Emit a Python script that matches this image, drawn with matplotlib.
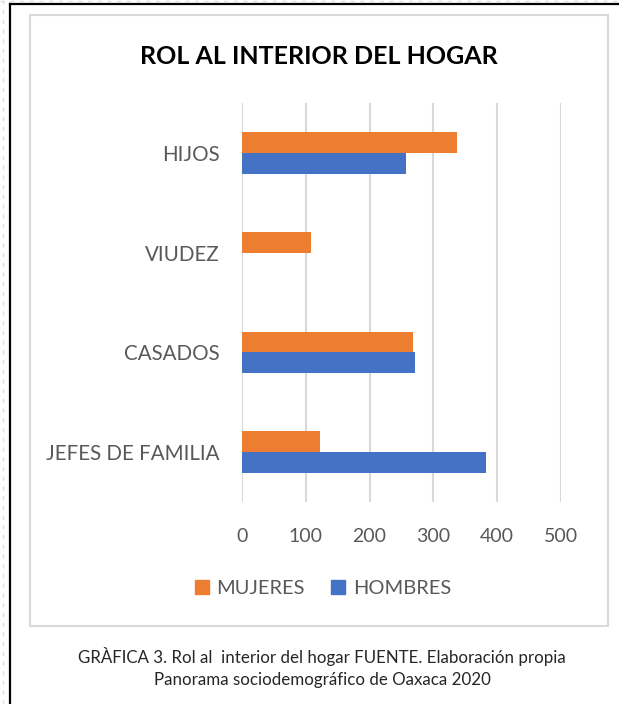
import numpy as np
import matplotlib
matplotlib.use('Agg')
import matplotlib.pyplot as plt
from matplotlib.patches import Rectangle, Patch
from matplotlib.lines import Line2D

plt.rcParams['font.family'] = ['Lato', 'DejaVu Sans']

categorias = ['JEFES DE FAMILIA', 'CASADOS', 'VIUDEZ', 'HIJOS']
mujeres = [123, 268, 108, 337]
hombres = [382, 271, 0, 257]
xticks = [0, 100, 200, 300, 400, 500]

naranja = '#ED7D31'
azul = '#4472C4'
gris_txt = '#595959'

W, H = 619, 704
fig = plt.figure(figsize=(W / 100, H / 100), dpi=100)

# marco exterior negro y adorno punteado
fig.add_artist(Line2D([10 / W, 10 / W], [0, 1 - 4 / H], color='black', lw=1.6))
fig.add_artist(Line2D([10 / W, 1], [1 - 4 / H, 1 - 4 / H], color='black', lw=1.6))
fig.add_artist(Line2D([3 / W, 3 / W], [0, 1], color='#e0e0e0', lw=1, ls=(0, (3, 4))))
fig.add_artist(Line2D([0, 1], [1 - 1 / H, 1 - 1 / H], color='#e0e0e0', lw=1, ls=(0, (3, 4))))

# caja gris del grafico
fig.add_artist(Rectangle((30 / W, 1 - 626 / H), (608 - 30) / W, (626 - 15) / H,
                         fill=False, edgecolor='#d9d9d9', lw=1.5))

ax = fig.add_axes([242 / W, 1 - 502 / H, (561 - 242) / W, (502 - 103) / H])
y = np.arange(len(categorias))
h = 0.207
ax.barh(y + h / 2, mujeres, height=h, color=naranja, label='MUJERES', zorder=3)
ax.barh(y - h / 2, hombres, height=h, color=azul, label='HOMBRES', zorder=3)

ax.set_xlim(0, 500)
ax.set_ylim(-0.5, len(categorias) - 0.5)
ax.set_xticks(xticks)
ax.set_yticks(y)
ax.set_yticklabels(categorias)
ax.grid(axis='x', color='#d9d9d9', lw=1.5, zorder=0)
for s in ax.spines.values():
    s.set_visible(False)
ax.tick_params(axis='both', length=0, labelcolor=gris_txt)
ax.tick_params(axis='x', pad=19, labelsize=14)
ax.tick_params(axis='y', pad=16, labelsize=14.8)

fig.text(319 / W, 1 - 56 / H, 'ROL AL INTERIOR DEL HOGAR', ha='center', va='center',
         fontsize=18, fontweight='bold', color='black')

handles = [Patch(color=naranja), Patch(color=azul)]
leg = fig.legend(handles, ['MUJERES', 'HOMBRES'], loc='center', ncol=2,
                 bbox_to_anchor=(323 / W, 1 - 588 / H), frameon=False,
                 fontsize=14.4, handlelength=0.7, handleheight=0.7,
                 handletextpad=0.4, columnspacing=1.3)
for t in leg.get_texts():
    t.set_color(gris_txt)

fig.text(322 / W, 1 - 656 / H,
         'GRÀFICA 3. Rol al  interior del hogar FUENTE. Elaboración propia',
         ha='center', va='center', fontsize=12.2, color='#262626')
fig.text(322 / W, 1 - 680 / H, 'Panorama sociodemográfico de Oaxaca 2020',
         ha='center', va='center', fontsize=12.2, color='#262626')

fig.savefig('out.png', dpi=100)
